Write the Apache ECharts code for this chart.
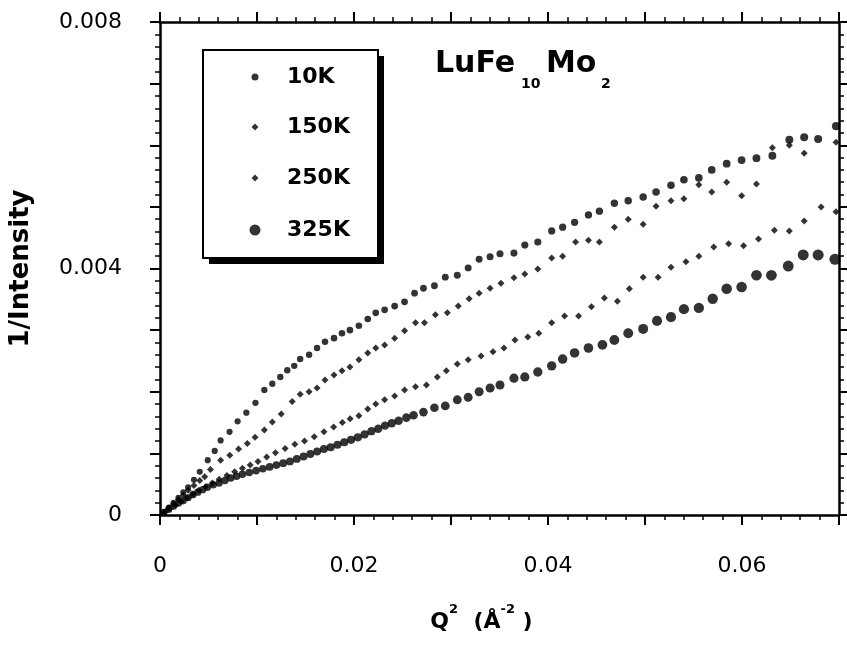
<!DOCTYPE html>
<html>
<head>
<meta charset="utf-8">
<title>LuFe10Mo2 1/Intensity vs Q2</title>
<script src="https://cdn.jsdelivr.net/npm/echarts@6.0.0/dist/echarts.min.js"></script>
<style>
  html, body { margin: 0; padding: 0; background: #fff; }
  #chart { width: 847px; height: 649px; }
</style>
</head>
<body>
<div id="chart"></div>
<script>
// Q^2 (A^-2) and 1/Intensity for each temperature
var q10 = [0.0004, 0.0009, 0.0014, 0.0019, 0.0024, 0.0029, 0.0035, 0.0041, 0.00492, 0.00564, 0.00625, 0.00717, 0.0080, 0.0089, 0.00984, 0.01076, 0.01158, 0.0124, 0.01312, 0.01384, 0.01445, 0.01537, 0.01619, 0.01701, 0.01794, 0.01876, 0.01958, 0.0205, 0.02142, 0.02224, 0.02316, 0.02419, 0.02521, 0.02624, 0.02716, 0.02829, 0.02941, 0.03065, 0.03177, 0.0329, 0.03403, 0.03505, 0.03649, 0.03761, 0.03895, 0.04038, 0.04151, 0.04274, 0.04417, 0.0453, 0.04684, 0.04827, 0.04981, 0.05114, 0.05268, 0.05401, 0.05555, 0.05688, 0.05842, 0.05996, 0.06149, 0.06313, 0.06488, 0.06641, 0.06785, 0.06969];
var i10 = [0.00005, 0.00012, 0.0002, 0.00028, 0.00037, 0.00045, 0.00057, 0.0007, 0.00089, 0.00104, 0.00121, 0.00135, 0.00152, 0.00166, 0.00182, 0.00203, 0.00213, 0.00224, 0.00235, 0.00242, 0.00253, 0.0026, 0.00271, 0.00281, 0.00287, 0.00295, 0.003, 0.00307, 0.00318, 0.00328, 0.00333, 0.00339, 0.00346, 0.0036, 0.00368, 0.00372, 0.00386, 0.00389, 0.00401, 0.00415, 0.00419, 0.00424, 0.00425, 0.00438, 0.00443, 0.00461, 0.00467, 0.00475, 0.00487, 0.00493, 0.00506, 0.0051, 0.00516, 0.00524, 0.00535, 0.00544, 0.00547, 0.0056, 0.0057, 0.00576, 0.00579, 0.00583, 0.00609, 0.00613, 0.0061, 0.00631];

var q150 = [0.0004, 0.0009, 0.0014, 0.0019, 0.0024, 0.0029, 0.0035, 0.0041, 0.00461, 0.0052, 0.00625, 0.0072, 0.0081, 0.009, 0.0098, 0.01076, 0.01158, 0.0125, 0.01363, 0.01445, 0.01537, 0.01619, 0.01701, 0.01794, 0.01876, 0.01958, 0.0205, 0.02142, 0.02224, 0.02316, 0.02419, 0.02521, 0.02634, 0.02726, 0.02839, 0.02962, 0.03075, 0.03187, 0.0329, 0.03403, 0.03515, 0.03649, 0.03761, 0.03895, 0.04038, 0.04151, 0.04284, 0.04417, 0.0453, 0.04684, 0.04827, 0.04981, 0.05114, 0.05268, 0.05401, 0.05555, 0.05688, 0.05842, 0.05996, 0.06149, 0.06313, 0.06488, 0.06641, 0.06969];
var i150 = [0.00005, 0.00011, 0.00018, 0.00025, 0.00032, 0.0004, 0.00048, 0.00056, 0.00062, 0.00074, 0.00089, 0.00097, 0.00107, 0.00116, 0.00126, 0.00138, 0.00151, 0.00164, 0.00184, 0.00196, 0.002, 0.00206, 0.00219, 0.00227, 0.00234, 0.0024, 0.00252, 0.00263, 0.00271, 0.00276, 0.00287, 0.00299, 0.00312, 0.00312, 0.00325, 0.00328, 0.00339, 0.00351, 0.0036, 0.00368, 0.00376, 0.00385, 0.00391, 0.00399, 0.00417, 0.0042, 0.00443, 0.00446, 0.00443, 0.00467, 0.0048, 0.00472, 0.00501, 0.0051, 0.00513, 0.00536, 0.00524, 0.0054, 0.00518, 0.00537, 0.00596, 0.006, 0.00587, 0.00605];

var q250 = [0.0005, 0.001, 0.0016, 0.0022, 0.0028, 0.0034, 0.004, 0.0047, 0.0054, 0.0061, 0.0069, 0.0077, 0.0085, 0.0093, 0.0101, 0.011, 0.0119, 0.0129, 0.0139, 0.0149, 0.0159, 0.0169, 0.0179, 0.0188, 0.0196, 0.0205, 0.02142, 0.02224, 0.02316, 0.02419, 0.02521, 0.02634, 0.02747, 0.02859, 0.02952, 0.03065, 0.03177, 0.0331, 0.03433, 0.03546, 0.03659, 0.03792, 0.03905, 0.04038, 0.04171, 0.04315, 0.04448, 0.04581, 0.04715, 0.04838, 0.04981, 0.05135, 0.05268, 0.05422, 0.05555, 0.05709, 0.05862, 0.06016, 0.0617, 0.06334, 0.06488, 0.06641, 0.06816, 0.06969];
var i250 = [0.00005, 0.0001, 0.00016, 0.00022, 0.00028, 0.00034, 0.0004, 0.00046, 0.00052, 0.00058, 0.00064, 0.0007, 0.00076, 0.00081, 0.00087, 0.00094, 0.00101, 0.00108, 0.00115, 0.0012, 0.00127, 0.00135, 0.00143, 0.0015, 0.00156, 0.00161, 0.00172, 0.0018, 0.00187, 0.00193, 0.00203, 0.00208, 0.00211, 0.00224, 0.00234, 0.00245, 0.00252, 0.00258, 0.00265, 0.00271, 0.00284, 0.00289, 0.00295, 0.00312, 0.00323, 0.00323, 0.00338, 0.00352, 0.00347, 0.00367, 0.00386, 0.00386, 0.00402, 0.00411, 0.0042, 0.00435, 0.0044, 0.00437, 0.00448, 0.00462, 0.00461, 0.00477, 0.005, 0.00492];

var q325 = [0.0004, 0.0009, 0.0014, 0.0019, 0.0024, 0.0029, 0.0034, 0.0039, 0.0044, 0.0049, 0.0055, 0.0061, 0.0067, 0.0073, 0.0079, 0.0085, 0.0092, 0.0099, 0.0106, 0.0113, 0.012, 0.0127, 0.0134, 0.0141, 0.0148, 0.0155, 0.0162, 0.0169, 0.0176, 0.0183, 0.019, 0.0197, 0.0204, 0.0211, 0.0218, 0.0225, 0.0232, 0.0239, 0.0246, 0.0254, 0.02614, 0.02716, 0.02829, 0.02941, 0.03065, 0.03177, 0.0329, 0.03403, 0.03505, 0.03649, 0.03761, 0.03895, 0.04038, 0.04151, 0.04274, 0.04417, 0.04561, 0.04684, 0.04827, 0.04981, 0.05124, 0.05268, 0.05401, 0.05555, 0.05698, 0.05842, 0.05996, 0.06149, 0.06303, 0.06477, 0.06631, 0.06785, 0.06959];
var i325 = [0.00004, 0.00009, 0.00014, 0.00019, 0.00023, 0.00028, 0.00033, 0.00037, 0.00041, 0.00045, 0.00049, 0.00052, 0.00056, 0.0006, 0.00063, 0.00066, 0.00069, 0.00072, 0.00075, 0.00078, 0.00081, 0.00084, 0.00087, 0.00091, 0.00095, 0.00099, 0.00103, 0.00107, 0.0011, 0.00114, 0.00118, 0.00122, 0.00126, 0.00131, 0.00136, 0.0014, 0.00145, 0.00149, 0.00153, 0.00158, 0.00162, 0.00167, 0.00174, 0.00177, 0.00187, 0.00191, 0.002, 0.00206, 0.00211, 0.00222, 0.00224, 0.00232, 0.00242, 0.00253, 0.00263, 0.00271, 0.00276, 0.00284, 0.00295, 0.00302, 0.00315, 0.00321, 0.00334, 0.00336, 0.00351, 0.00367, 0.0037, 0.00389, 0.00389, 0.00404, 0.00422, 0.00422, 0.00415];

var seriesNames = ['10K', '150K', '250K', '325K'];
var xLabels = ['0', '0.02', '0.04', '0.06'];
var yLabels = ['0', '0.004', '0.008'];

function pairs(xs, ys) {
  var out = [];
  for (var i = 0; i < Math.min(xs.length, ys.length); i++) out.push([xs[i], ys[i]]);
  return out;
}

var FONT = '"DejaVu Sans", "Liberation Sans", Arial, sans-serif';

function xAxisCfg(pos, showLabels) {
  return {
    type: 'value', position: pos, min: 0, max: 0.07, interval: 0.01,
    axisLine: { show: true, onZero: false, lineStyle: { color: '#000', width: 2.5 } },
    axisTick: { show: true, length: 10, lineStyle: { color: '#000', width: 2 } },
    minorTick: { show: true, splitNumber: 5, length: 5, lineStyle: { color: '#000', width: 1.5 } },
    splitLine: { show: false },
    axisLabel: {
      show: showLabels, margin: 40, color: '#000', fontFamily: FONT, fontSize: 22,
      formatter: function (v) {
        var s = v === 0 ? '0' : v.toFixed(2);
        return xLabels.indexOf(s) >= 0 ? s : '';
      }
    }
  };
}

function yAxisCfg(pos, showLabels) {
  return {
    type: 'value', position: pos, min: 0, max: 0.008, interval: 0.001,
    axisLine: { show: true, onZero: false, lineStyle: { color: '#000', width: 2.5 } },
    axisTick: { show: true, length: 10, lineStyle: { color: '#000', width: 2 } },
    minorTick: { show: true, splitNumber: 5, length: 5, lineStyle: { color: '#000', width: 1.5 } },
    splitLine: { show: false },
    axisLabel: {
      show: showLabels, margin: 38, color: '#000', fontFamily: FONT, fontSize: 22,
      formatter: function (v) {
        var s = v === 0 ? '0' : v.toFixed(3);
        return yLabels.indexOf(s) >= 0 ? s : '';
      }
    }
  };
}

var xBottom = xAxisCfg('bottom', true);
xBottom.name = '{n|Q}{s|2}{n|  (Å}{s|-2}{n| )}';
xBottom.nameLocation = 'middle';
xBottom.nameGap = 88;
xBottom.nameTextStyle = {
  padding: [0, 36, 0, 0],
  rich: {
    n: { fontFamily: FONT, fontWeight: 'bold', fontSize: 22, color: '#000', lineHeight: 30, verticalAlign: 'bottom' },
    s: { fontFamily: FONT, fontWeight: 'bold', fontSize: 13, color: '#000', lineHeight: 14, verticalAlign: 'top' }
  }
};

var yLeft = yAxisCfg('left', true);
yLeft.name = '1/Intensity';
yLeft.nameLocation = 'middle';
yLeft.nameGap = 126;
yLeft.nameTextStyle = { fontFamily: FONT, fontWeight: 'bold', fontSize: 26, color: '#000' };

function legendCfg(name, rowY, w) {
  return {
    data: [name], orient: 'vertical', selectedMode: false,
    left: 255 - w / 2, top: rowY - 15, padding: 0,
    itemWidth: w, itemHeight: w,
    textStyle: { fontFamily: FONT, fontWeight: 'bold', fontSize: 22, color: '#000',
      lineHeight: 30, padding: [0, 0, 0, 27 - w / 2] }
  };
}

var chart = echarts.init(document.getElementById('chart'), null, { renderer: 'canvas' });
chart.setOption({
  backgroundColor: '#fff',
  animation: false,
  grid: { left: 157, right: 8, top: 22, bottom: 134, containLabel: false },
  xAxis: [xBottom, xAxisCfg('top', false)],
  yAxis: [yLeft, yAxisCfg('right', false)],
  legend: [
    legendCfg(seriesNames[0], 77, 7),
    legendCfg(seriesNames[1], 127, 7),
    legendCfg(seriesNames[2], 178, 7),
    legendCfg(seriesNames[3], 230, 11)
  ],
  graphic: [
    // legend frame: solid offset shadow, then the white box with its border
    {
      type: 'rect', z: 1,
      shape: { x: 209, y: 56, width: 175, height: 208 },
      style: { fill: '#000' }
    },
    {
      type: 'rect', z: 2,
      shape: { x: 203, y: 50, width: 175, height: 208 },
      style: { fill: '#fff', stroke: '#000', lineWidth: 2 }
    },
    { type: 'text', z: 5, style: { text: 'LuFe', x: 435, y: 64, font: 'bold 30px ' + FONT, fill: '#000', verticalAlign: 'middle' } },
    { type: 'text', z: 5, style: { text: '10', x: 521, y: 84, font: 'bold 14px ' + FONT, fill: '#000', verticalAlign: 'middle' } },
    { type: 'text', z: 5, style: { text: 'Mo', x: 546, y: 64, font: 'bold 30px ' + FONT, fill: '#000', verticalAlign: 'middle' } },
    { type: 'text', z: 5, style: { text: '2', x: 601, y: 84, font: 'bold 14px ' + FONT, fill: '#000', verticalAlign: 'middle' } }
  ],
  series: [
    {
      name: seriesNames[0], type: 'scatter', symbol: 'circle',
      symbolSize: function (d) { return 6 + d[0] * 30; },
      itemStyle: { color: '#000' }, data: pairs(q10, i10)
    },
    {
      name: seriesNames[1], type: 'scatter', symbol: 'diamond', symbolSize: 7,
      itemStyle: { color: '#000' }, data: pairs(q150, i150)
    },
    {
      name: seriesNames[2], type: 'scatter', symbol: 'diamond', symbolSize: 7,
      itemStyle: { color: '#000' }, data: pairs(q250, i250)
    },
    {
      name: seriesNames[3], type: 'scatter', symbol: 'circle',
      symbolSize: function (d) { return 7 + d[0] * 60; },
      itemStyle: { color: '#000' }, data: pairs(q325, i325)
    }
  ]
});
</script>
</body>
</html>
